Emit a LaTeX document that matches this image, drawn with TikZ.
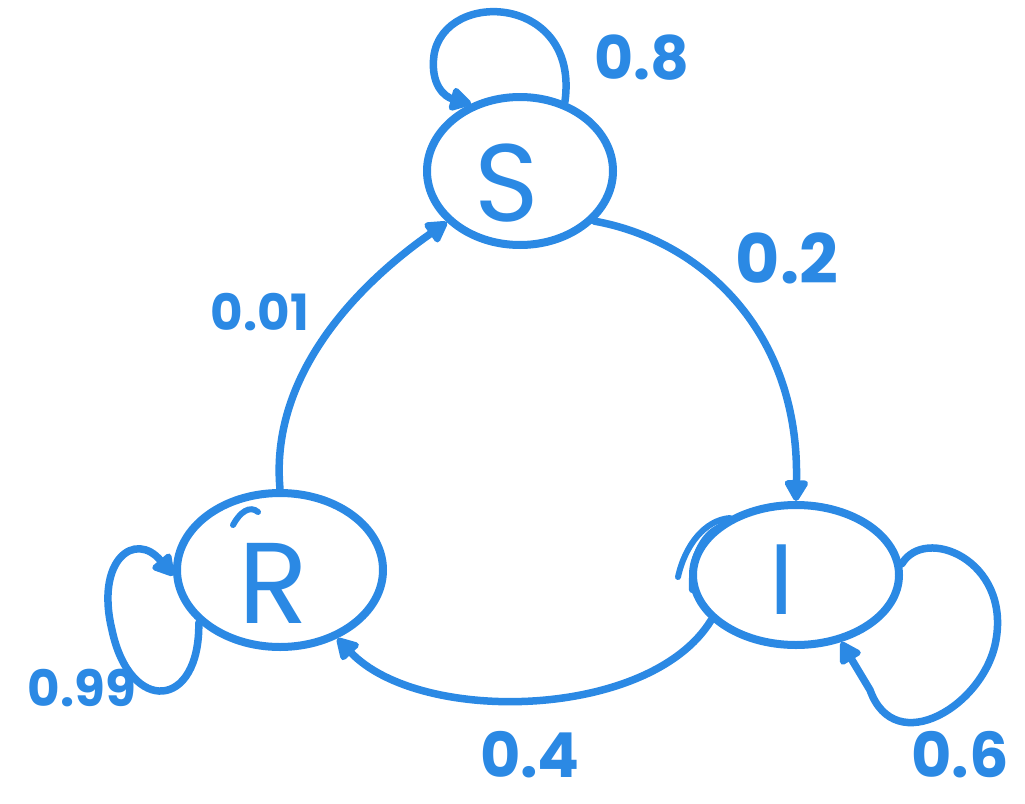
\documentclass[tikz,border=0pt]{standalone}
\usepackage{fontspec}
\setmainfont{Poppins}
\usetikzlibrary{shapes.geometric,arrows.meta}
\definecolor{pen}{RGB}{43,137,228}
\begin{document}
\begin{tikzpicture}[x=1pt,y=-1pt,
  state/.style={ellipse,draw=pen,line width=8pt,inner sep=0pt},
  letter/.style={text=pen,inner sep=0pt},
  edge/.style={draw=pen,line width=7.5pt,line cap=round,-{Triangle[length=24pt,width=26pt,round]}},
  lbl/.style={text=pen,inner sep=0pt},
  scrib/.style={draw=pen,line width=6pt,line cap=round}]
\useasboundingbox (0,0) rectangle (1025,803);
\node[state,minimum width=186pt,minimum height=148pt] (S) at (520,171) {};
\node[state,minimum width=206pt,minimum height=154pt] (R) at (280,570) {};
\node[state,minimum width=206pt,minimum height=140pt] (I) at (796,575) {};
\node[letter,font=\fontsize{110}{110}\selectfont] (St) at (507,183) {S};
\node[letter,font=\fontsize{115}{115}\selectfont] (Rt) at (273,583) {R};
\node[letter,font=\fontsize{100}{100}\selectfont] (It) at (782,580) {I};
% self loops
\draw[edge] (S.57) .. controls (580,-5) and (445,-12) .. (434,55) .. controls (430,85) and (445,97) .. (S.126);
\draw[edge] (R.213) .. controls (200,710) and (130,715) .. (112,630) .. controls (95,560) and (135,530) .. (R.183);
\draw[edge] (I.6) .. controls (925,525) and (1010,560) .. (996,640) .. controls (985,705) and (895,760) .. (870,690) -- (I.-56);
% transitions
\draw[edge] (S.-34) .. controls (700,240) and (800,330) .. (I.north);
\draw[edge] (R.north) .. controls (270,380) and (350,290) .. (S.215);
\draw[edge] (I.208) .. controls (650,720) and (420,725) .. (R.-50);
% hand-drawn extra strokes
\draw[scrib] (678,577) .. controls (685,545) and (705,520) .. (730,518);
\draw[scrib] (692,590) .. controls (690,555) and (705,530) .. (725,525);
\draw[scrib] (233,525) .. controls (240,512) and (250,505) .. (258,512);
% labels
\node[lbl,font=\bfseries\fontsize{60}{60}\selectfont] (l08) at (642,58) {0.8};
\node[lbl,font=\bfseries\fontsize{68}{68}\selectfont] (l02) at (787,258) {0.2};
\node[lbl,font=\bfseries\fontsize{50}{50}\selectfont] (l001) at (260,312) {0.01};
\node[lbl,font=\bfseries\fontsize{50}{50}\selectfont] (l099) at (82,688) {0.99};
\node[lbl,font=\bfseries\fontsize{62}{62}\selectfont] (l04) at (530,755) {0.4};
\node[lbl,font=\bfseries\fontsize{62}{62}\selectfont] (l06) at (960,755) {0.6};
\end{tikzpicture}
\end{document}
